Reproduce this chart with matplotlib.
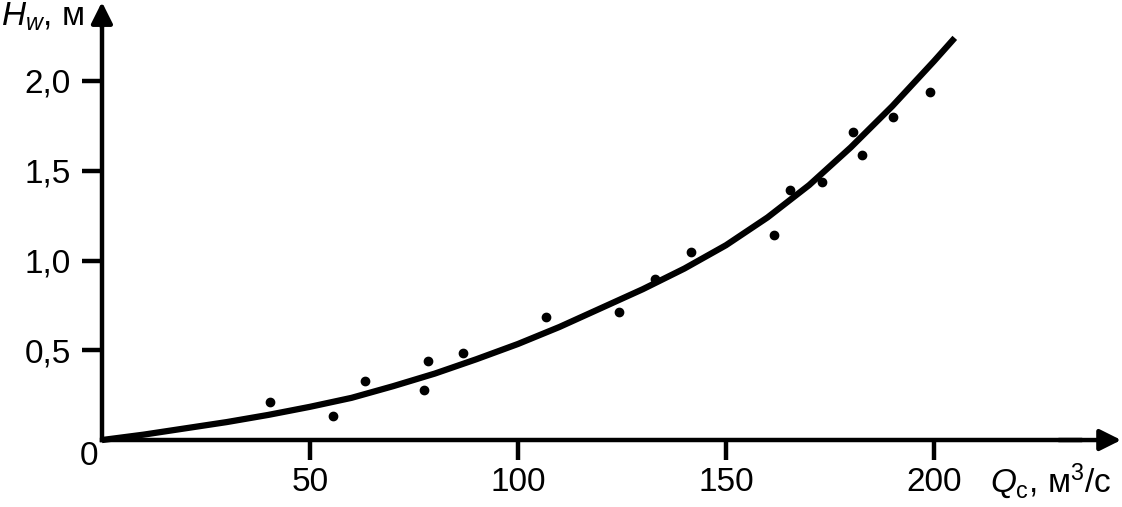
import matplotlib
matplotlib.use('Agg')
import matplotlib.pyplot as plt

plt.rcParams['font.family'] = ['Liberation Sans', 'DejaVu Sans']
plt.rcParams['mathtext.fontset'] = 'custom'
plt.rcParams['mathtext.rm'] = 'Liberation Sans'
plt.rcParams['mathtext.it'] = 'Liberation Sans:italic'

# measured points
q_pts = [40.4, 55.5, 63.2, 77.4, 78.4, 86.8, 106.7, 124.3, 132.9, 141.6,
         161.5, 165.4, 173.1, 180.5, 182.7, 190.1, 199.0]
h_pts = [0.21, 0.135, 0.33, 0.28, 0.44, 0.485, 0.685, 0.713, 0.897, 1.047,
         1.142, 1.393, 1.437, 1.716, 1.588, 1.80, 1.939]

# fitted curve
q_fit = [0, 10, 20, 30, 40, 50, 60, 70, 80, 90, 100, 110, 120, 130, 140,
         150, 160, 170, 180, 190, 200, 205]
h_fit = [0, 0.03, 0.065, 0.10, 0.14, 0.185, 0.235, 0.30, 0.37, 0.45, 0.535,
         0.63, 0.735, 0.84, 0.955, 1.085, 1.24, 1.42, 1.63, 1.86, 2.11, 2.24]

x_ticks = [50, 100, 150, 200]
y_ticks = [0.5, 1.0, 1.5, 2.0]
y_labels = ['0,5', '1,0', '1,5', '2,0']

fig = plt.figure(figsize=(11.22, 5.07), dpi=100)
ax = fig.add_axes([0, 0, 1, 1])
ax.set_xlim(-24.5, 245.2)
ax.set_ylim(-0.373, 2.451)

for s in ['top', 'right']:
    ax.spines[s].set_visible(False)
ax.spines['left'].set_position(('data', 0))
ax.spines['bottom'].set_position(('data', 0))
ax.spines['left'].set_bounds(0, 2.3)
ax.spines['bottom'].set_bounds(0, 235)
ax.spines['left'].set_linewidth(3.2)
ax.spines['bottom'].set_linewidth(3.2)

# arrow heads on the axes
ax.annotate('', xy=(245.0, 0), xytext=(230, 0),
            arrowprops=dict(arrowstyle='-|>', lw=3.2, mutation_scale=32, color='k',
                            shrinkA=0, shrinkB=0))
ax.annotate('', xy=(0, 2.44), xytext=(0, 2.3),
            arrowprops=dict(arrowstyle='-|>', lw=3.2, mutation_scale=32, color='k',
                            shrinkA=0, shrinkB=0))

ax.set_xticks(x_ticks)
ax.set_xticklabels([str(t) for t in x_ticks])
ax.set_yticks(y_ticks)
ax.set_yticklabels(y_labels)
ax.tick_params(direction='out', length=14.5, width=3.2, labelsize=24, color='k')
ax.tick_params(axis='x', pad=5)
ax.tick_params(axis='y', pad=8)

ax.plot(q_fit, h_fit, color='k', lw=4.5, solid_capstyle='butt', solid_joinstyle='round')
ax.plot(q_pts, h_pts, 'o', color='k', markersize=6)

ax.text(-0.8, -0.005, '0', fontsize=24, ha='right', va='top')
fig.text(0.001, 1 - 26 / 507, '$H_w$, м', fontsize=24, ha='left', va='baseline')
fig.text(990 / 1122, 1 - 492 / 507, '$Q_{\\mathrm{c}}$, м$^3$/с', fontsize=24,
         ha='left', va='baseline')

fig.savefig('out.png', dpi=100)
